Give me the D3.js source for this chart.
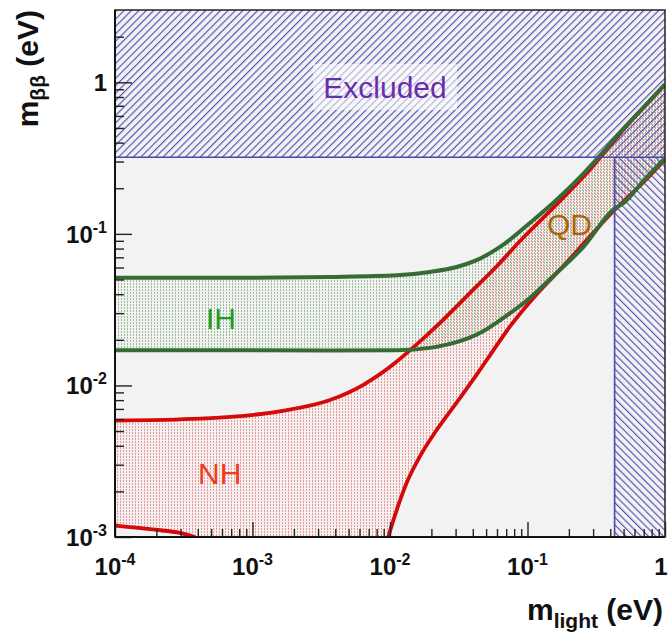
<!DOCTYPE html>
<html><head><meta charset="utf-8">
<script src="https://cdn.jsdelivr.net/npm/d3@7"></script>
<style>body{margin:0;background:#fff}text{font-family:"Liberation Sans",Arial,Helvetica,sans-serif}</style>
</head><body>
<svg id="c" width="669" height="633"></svg>
<script>
// ---------- data ----------
const xDomain = [1e-4, 1];
const yDomain = [1e-3, 3];
const xMajorTicks = [1e-4, 1e-3, 1e-2, 1e-1, 1];
const xTickLabels = [["10","-4"],["10","-3"],["10","-2"],["10","-1"],["1",""]];
const yMajorTicks = [1e-3, 1e-2, 1e-1, 1];
const yTickLabels = [["10","-3"],["10","-2"],["10","-1"],["1",""]];
const excludedMbb = 0.32;     // eV, upper limit on m_bb
const excludedMlight = 0.43;  // eV, limit on m_light

const ihUpperM = [1e-4, 1e-3, 3.66e-3, 0.0112, 0.0195, 0.0305, 0.0451, 0.0667, 0.104, 0.163, 0.255, 0.318, 0.5, 0.7, 1.0];
const ihUpperV = [0.0513, 0.0514, 0.0520, 0.0533, 0.0561, 0.0605, 0.0687, 0.0849, 0.118, 0.168, 0.250, 0.310, 0.497, 0.687, 0.97];

const ihLowerM = [1e-4, 1e-3, 3.66e-3, 0.0112, 0.0195, 0.0305, 0.0451, 0.0667, 0.104, 0.163, 0.255, 0.421, 0.509, 0.7, 1.0];
const ihLowerV = [0.01705, 0.01705, 0.0170, 0.01705, 0.0177, 0.0193, 0.0222, 0.0279, 0.0378, 0.0553, 0.082, 0.1445, 0.162, 0.225, 0.315];

const nhUpperM = [1e-4, 4.15e-4, 1.58e-3, 3.66e-3, 6.4e-3, 0.0112, 0.01396, 0.0231, 0.0382, 0.0597, 0.0882, 0.159, 0.285, 0.5, 1.0];
const nhUpperV = [0.00586, 0.00604, 0.00675, 0.00801, 0.0101, 0.01437, 0.01705, 0.0259, 0.0408, 0.0611, 0.0897, 0.153, 0.266, 0.488, 0.962];

const nhLowerM = [0.0097, 0.0112, 0.0132, 0.0165, 0.0219, 0.0305, 0.0427, 0.0533, 0.0746, 0.1167, 0.182, 0.285, 0.421, 0.7, 1.0];
const nhLowerV = [0.0010, 0.00151, 0.00227, 0.0034, 0.0051, 0.0077, 0.0118, 0.0158, 0.0245, 0.0400, 0.0611, 0.0964, 0.141, 0.22, 0.31];

const nhLeftM = [1e-4, 1.95e-4, 2.97e-4, 3.82e-4];
const nhLeftV = [0.00119, 0.001117, 0.001063, 0.0010];

// ---------- layout ----------
const L = 115, R = 665, T = 10, B = 537;
const svg = d3.select("#c");
const x = d3.scaleLog().domain(xDomain).range([L, R]);
const y = d3.scaleLog().domain(yDomain).range([B, T]);
const zip = (a, b) => a.map((v, i) => [v, b[i]]);
const ihU = zip(ihUpperM, ihUpperV), ihL = zip(ihLowerM, ihLowerV);
const nhU = zip(nhUpperM, nhUpperV), nhL = zip(nhLowerM, nhLowerV), nhLL = zip(nhLeftM, nhLeftV);
const line = d3.line().x(d=>x(d[0])).y(d=>y(d[1])).curve(d3.curveMonotoneX);

const defs = svg.append("defs");
defs.append("clipPath").attr("id","clip").append("rect").attr("x",L).attr("y",T).attr("width",R-L).attr("height",B-T);
const below = (pts) => line(pts) + `L${R+60},${B+60}L${L-60},${B+60}Z`;
const above = (d) => d + `L${R+60},${T-60}L${L-60},${T-60}Z`;
defs.append("clipPath").attr("id","belowIH").append("path").attr("d", below(ihU));
defs.append("clipPath").attr("id","belowNH").append("path").attr("d", below(nhU));

function hatch(id, ang){
  const p = defs.append("pattern").attr("id",id).attr("patternUnits","userSpaceOnUse")
    .attr("width",5.25).attr("height",10).attr("patternTransform",`rotate(${ang})`);
  p.append("line").attr("x1",0.6).attr("x2",0.6).attr("y1",0).attr("y2",10).attr("stroke","#4a4ab4").attr("stroke-width",1.1);
}
hatch("hatchA", 45);
hatch("hatchB", -45);
function dots(id, color, dx, dy){
  const p = defs.append("pattern").attr("id",id).attr("patternUnits","userSpaceOnUse").attr("width",3).attr("height",3);
  p.append("rect").attr("x",dx).attr("y",dy).attr("width",1).attr("height",2).attr("fill",color).attr("opacity",0.45);
}
dots("dotR", "#e82020", 0, 0);
dots("dotG", "#2e7a2e", 1, 1);

svg.append("rect").attr("x",L).attr("y",T).attr("width",R-L).attr("height",B-T).attr("fill","#f2f2f2");

const g = svg.append("g").attr("clip-path","url(#clip)");

const nhAbove = above(line(nhLL) + "L" + line(nhL).slice(1));
g.append("g").attr("clip-path","url(#belowNH)").append("path").attr("d", nhAbove).attr("fill","url(#dotR)");
g.append("g").attr("clip-path","url(#belowIH)").append("path").attr("d", above(line(ihL))).attr("fill","url(#dotG)");

const yEx = y(excludedMbb), xEx = x(excludedMlight);
g.append("rect").attr("x",L).attr("y",T).attr("width",R-L).attr("height",yEx-T).attr("fill","url(#hatchA)");
g.append("rect").attr("x",xEx).attr("y",yEx).attr("width",R-xEx).attr("height",B-yEx).attr("fill","url(#hatchB)");

const red = "#d40a0a", green = "#356b35";
[nhU, nhL, nhLL].forEach(d => g.append("path").attr("d", line(d)).attr("fill","none").attr("stroke",red).attr("stroke-width",3.8));
[ihU, ihL].forEach(d => g.append("path").attr("d", line(d)).attr("fill","none").attr("stroke",green).attr("stroke-width",4));

g.append("line").attr("x1",L).attr("x2",R).attr("y1",yEx).attr("y2",yEx).attr("stroke","#4848b0").attr("stroke-width",1.6);
g.append("line").attr("x1",xEx).attr("x2",xEx).attr("y1",yEx).attr("y2",B).attr("stroke","#4848b0").attr("stroke-width",1.6);

svg.append("rect").attr("x",313).attr("y",64).attr("width",144).attr("height",46).attr("fill","#fff").attr("opacity",0.55);
svg.append("text").attr("x",385).attr("y",98).attr("text-anchor","middle").attr("font-size",30).attr("fill","#6a2eaa").text("Excluded");
svg.append("text").attr("x",206).attr("y",329).attr("font-size",30).attr("fill","#1f9a1f").text("IH");
svg.append("text").attr("x",198).attr("y",484).attr("font-size",30).attr("fill","#f03c1e").text("NH");
svg.append("text").attr("x",547).attr("y",235).attr("font-size",30).attr("fill","#a8650a").text("QD");

svg.append("rect").attr("x",L).attr("y",T).attr("width",R-L).attr("height",B-T).attr("fill","none").attr("stroke","#222").attr("stroke-width",1.5);

function minors(domain){
  const out=[]; for(let e=Math.floor(Math.log10(domain[0])); e<=Math.ceil(Math.log10(domain[1])); e++){
    for(let k=2;k<=9;k++){const v=k*Math.pow(10,e); if(v>domain[0]&&v<domain[1]) out.push(v);} }
  return out;
}
const axStyle = sel => { sel.select(".domain").remove(); sel.selectAll(".tick line").attr("stroke","#222").attr("stroke-width",1.4); };
svg.append("g").attr("transform",`translate(0,${B})`).call(d3.axisBottom(x).tickValues(minors(xDomain)).tickSize(-8).tickFormat("")).call(axStyle);
svg.append("g").attr("transform",`translate(0,${B})`).call(d3.axisBottom(x).tickValues(xMajorTicks).tickSize(-15).tickFormat("")).call(axStyle);
svg.append("g").attr("transform",`translate(${L},0)`).call(d3.axisLeft(y).tickValues(minors(yDomain)).tickSize(-9).tickFormat("")).call(axStyle);
svg.append("g").attr("transform",`translate(${L},0)`).call(d3.axisLeft(y).tickValues(yMajorTicks).tickSize(-17).tickFormat("")).call(axStyle);
svg.append("line").attr("x1",L).attr("x2",R).attr("y1",B).attr("y2",B).attr("stroke","#111").attr("stroke-width",2);
svg.append("line").attr("x1",L).attr("x2",L).attr("y1",T).attr("y2",B).attr("stroke","#111").attr("stroke-width",2);

xMajorTicks.forEach((t,i)=>{
  const cx = Math.min(x(t), 661);
  const tx = svg.append("text").attr("x",cx).attr("y",575).attr("text-anchor","middle").attr("font-size",24).attr("font-weight","bold").attr("fill","#111");
  tx.append("tspan").text(xTickLabels[i][0]);
  if (xTickLabels[i][1]) tx.append("tspan").attr("dy",-10).attr("font-size",16).text(xTickLabels[i][1]);
});
yMajorTicks.forEach((t,i)=>{
  const tx = svg.append("text").attr("x",107).attr("y",y(t)+9).attr("text-anchor","end").attr("font-size",24).attr("font-weight","bold").attr("fill","#111");
  tx.append("tspan").text(yTickLabels[i][0]);
  if (yTickLabels[i][1]) tx.append("tspan").attr("dy",-10).attr("font-size",16).text(yTickLabels[i][1]);
});

const xt = svg.append("text").attr("x",663).attr("y",620).attr("text-anchor","end").attr("font-size",30).attr("font-weight","bold").attr("fill","#111");
xt.append("tspan").text("m");
xt.append("tspan").attr("dy",8).attr("font-size",21).text("light");
xt.append("tspan").attr("dy",-8).text(" (eV)");
const yt = svg.append("text").attr("transform","translate(38,10) rotate(-90)").attr("text-anchor","end").attr("font-size",30).attr("font-weight","bold").attr("fill","#111");
yt.append("tspan").text("m");
yt.append("tspan").attr("dy",7).attr("font-size",21).text("ββ");
yt.append("tspan").attr("dy",-7).text(" (eV)");
</script>
</body></html>
